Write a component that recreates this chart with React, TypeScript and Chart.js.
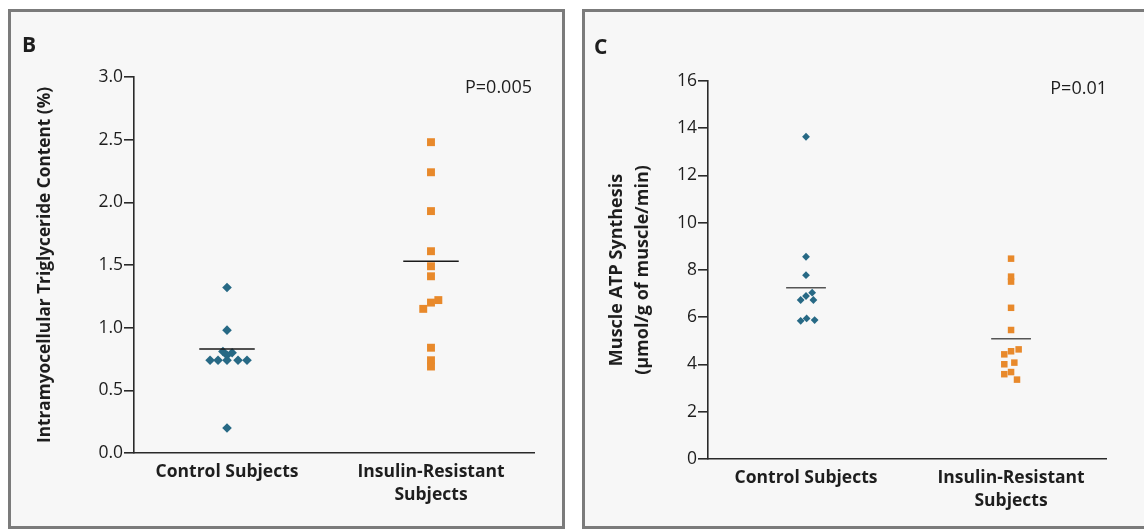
import React, { useEffect, useRef } from 'react';
import { Chart, registerables } from 'chart.js';

Chart.register(...registerables);

// ---------- data ----------
const categoryLabels: (string | string[])[] = ['Control Subjects', ['Insulin-Resistant', 'Subjects']];

// Panel B: intramyocellular triglyceride content (%)
const imtgTicks = [0, 0.5, 1.0, 1.5, 2.0, 2.5, 3.0];
const imtgControl = [1.32, 0.98, 0.81, 0.8, 0.78, 0.74, 0.74, 0.74, 0.74, 0.74, 0.2];
const imtgControlOffset = [0, 0, -0.02, 0.025, 0, -0.083, -0.044, 0, 0.054, 0.098, 0];
const imtgResistant = [2.48, 2.24, 1.93, 1.61, 1.49, 1.41, 1.22, 1.2, 1.15, 0.84, 0.74, 0.69];
const imtgResistantOffset = [0, 0, 0, 0, 0, 0, 0.036, 0, -0.038, 0, 0, 0];
const imtgMeans = [0.83, 1.53];
const imtgP = 'P=0.005';

// Panel C: muscle ATP synthesis (µmol/g of muscle/min)
const atpTicks = [0, 2, 4, 6, 8, 10, 12, 14, 16];
const atpControl = [13.64, 8.56, 7.78, 7.04, 6.9, 6.73, 6.73, 5.95, 5.85, 5.88];
const atpControlOffset = [0, 0, 0, 0.03, 0, -0.026, 0.036, 0.003, -0.026, 0.042];
const atpResistant = [8.48, 7.72, 7.51, 6.4, 5.46, 4.64, 4.56, 4.43, 4.08, 4.01, 3.68, 3.59, 3.36];
const atpResistantOffset = [0, 0, 0, 0, 0, 0.037, 0, -0.033, 0.016, -0.033, 0, -0.033, 0.029];
const atpMeans = [7.25, 5.09];
const atpP = 'P=0.01';

// ---------- styles ----------
const TEAL = '#276985';
const ORANGE = '#e8892b';
const AXIS = '#2a2a2a';
const TEXT = '#1e1e1e';
const FONT = "'Open Sans', 'DejaVu Sans', sans-serif";

const panelTextPlugin = {
  id: 'panelText',
  afterDraw(chart: any, _args: any, opts: any) {
    const ctx = chart.ctx;
    ctx.save();
    ctx.fillStyle = TEXT;
    ctx.textBaseline = 'alphabetic';
    ctx.textAlign = 'left';
    ctx.font = `bold 21px ${FONT}`;
    ctx.fillText(opts.letter, opts.letterX, opts.letterY);
    ctx.font = `18px ${FONT}`;
    ctx.textAlign = 'right';
    ctx.fillText(opts.pText, chart.chartArea.right + opts.pDx, opts.pY);
    ctx.restore();
  },
};

interface PanelSpec {
  control: number[];
  controlOffset: number[];
  resistant: number[];
  resistantOffset: number[];
  means: number[];
  ticks: number[];
  decimals: number;
  yTitle: string | string[];
  titleSize: number;
  titleLineHeight: number;
  titlePad: number;
  xMin: number;
  xMax: number;
  meanHalf: number;
  meanColor: string;
  diamond: number;
  square: number;
  padRight: number;
  padTop: number;
  yWidth: number;
  xHeight: number;
  letter: string;
  letterX: number;
  letterY: number;
  pText: string;
  pDx: number;
  pY: number;
}

function buildConfig(s: PanelSpec): any {
  const toPts = (vals: number[], offs: number[], cat: number) =>
    vals.map((v, i) => ({ x: cat + offs[i], y: v }));
  const meanLine = (cat: number, m: number) => ({
    type: 'line',
    data: [
      { x: cat - s.meanHalf, y: m },
      { x: cat + s.meanHalf, y: m },
    ],
    borderColor: s.meanColor,
    borderWidth: 1.6,
    pointRadius: 0,
    fill: false,
  });
  return {
    type: 'scatter',
    data: {
      datasets: [
        meanLine(1, s.means[0]),
        meanLine(2, s.means[1]),
        {
          data: toPts(s.control, s.controlOffset, 1),
          pointStyle: 'rectRot',
          pointRadius: s.diamond,
          backgroundColor: TEAL,
          borderColor: TEAL,
          borderWidth: 0,
        },
        {
          data: toPts(s.resistant, s.resistantOffset, 2),
          pointStyle: 'rect',
          pointRadius: s.square,
          backgroundColor: ORANGE,
          borderColor: ORANGE,
          borderWidth: 0,
        },
      ],
    },
    options: {
      responsive: false,
      animation: false,
      layout: { padding: { left: 0, right: s.padRight, top: s.padTop, bottom: 0 } },
      plugins: {
        legend: { display: false },
        tooltip: { enabled: false },
        panelText: {
          letter: s.letter,
          letterX: s.letterX,
          letterY: s.letterY,
          pText: s.pText,
          pDx: s.pDx,
          pY: s.pY,
        },
      },
      scales: {
        x: {
          type: 'linear',
          min: s.xMin,
          max: s.xMax,
          afterBuildTicks: (scale: any) => {
            scale.ticks = [{ value: 1 }, { value: 2 }];
          },
          afterFit: (scale: any) => {
            scale.height = s.xHeight;
          },
          ticks: {
            autoSkip: false,
            maxRotation: 0,
            padding: 7,
            color: TEXT,
            font: { family: FONT, size: 17.5, weight: 'bold', lineHeight: 1.35 },
            callback: (v: number) => categoryLabels[v - 1],
          },
          grid: { display: false, drawTicks: false },
          border: { display: true, color: AXIS, width: 1.6 },
        },
        y: {
          type: 'linear',
          min: s.ticks[0],
          max: s.ticks[s.ticks.length - 1],
          afterBuildTicks: (scale: any) => {
            scale.ticks = s.ticks.map((v) => ({ value: v }));
          },
          afterFit: (scale: any) => {
            scale.width = s.yWidth;
          },
          ticks: {
            padding: 1,
            color: TEXT,
            font: { family: FONT, size: 17.5 },
            callback: (v: number) => v.toFixed(s.decimals),
          },
          grid: {
            display: true,
            drawOnChartArea: false,
            drawTicks: true,
            tickLength: 10,
            color: AXIS,
            lineWidth: 1.6,
          },
          border: { display: true, color: AXIS, width: 1.6 },
          title: {
            display: true,
            text: s.yTitle,
            color: TEXT,
            font: { family: FONT, size: s.titleSize, weight: 'bold', lineHeight: s.titleLineHeight },
            padding: { top: s.titlePad, bottom: 0 },
          },
        },
      },
    },
    plugins: [panelTextPlugin],
  };
}

const specB: PanelSpec = {
  control: imtgControl,
  controlOffset: imtgControlOffset,
  resistant: imtgResistant,
  resistantOffset: imtgResistantOffset,
  means: imtgMeans,
  ticks: imtgTicks,
  decimals: 1,
  yTitle: 'Intramyocellular Triglyceride Content (%)',
  titleSize: 17.25,
  titleLineHeight: 1.2,
  titlePad: 23.5,
  xMin: 0.544,
  xMax: 2.505,
  meanHalf: 0.136,
  meanColor: '#1a1a1a',
  diamond: 4.8,
  square: 5.6,
  padRight: 28,
  padTop: 65,
  yWidth: 123,
  xHeight: 73,
  letter: 'B',
  letterX: 11,
  letterY: 40,
  pText: imtgP,
  pDx: -2,
  pY: 81,
};

const specC: PanelSpec = {
  control: atpControl,
  controlOffset: atpControlOffset,
  resistant: atpResistant,
  resistantOffset: atpResistantOffset,
  means: atpMeans,
  ticks: atpTicks,
  decimals: 0,
  yTitle: ['Muscle ATP Synthesis', '(µmol/g of muscle/min)'],
  titleSize: 18,
  titleLineHeight: 1.44,
  titlePad: 18.7,
  xMin: 0.522,
  xMax: 2.463,
  meanHalf: 0.097,
  meanColor: '#555555',
  diamond: 3.9,
  square: 4.6,
  padRight: 39,
  padTop: 69,
  yWidth: 123,
  xHeight: 67,
  letter: 'C',
  letterX: 9,
  letterY: 42,
  pText: atpP,
  pDx: 1,
  pY: 82,
};

function Panel({ spec, left, width, canvasWidth }: { spec: PanelSpec; left: number; width: number; canvasWidth: number }) {
  const ref = useRef<HTMLCanvasElement | null>(null);
  useEffect(() => {
    if (!ref.current) return;
    const chart = new Chart(ref.current, buildConfig(spec));
    return () => chart.destroy();
  }, [spec]);
  return (
    <div
      style={{
        position: 'absolute',
        left,
        top: 9,
        width,
        height: 520,
        boxSizing: 'border-box',
        border: '3px solid #7b7b7b',
        background: '#f7f7f7',
      }}
    >
      <canvas
        ref={ref}
        width={canvasWidth}
        height={514}
        style={{ position: 'absolute', left: 0, top: 0, width: canvasWidth, height: 514 }}
      />
    </div>
  );
}

export default function App() {
  return (
    <div
      style={{
        position: 'fixed',
        left: 0,
        top: 0,
        width: 1144,
        height: 529,
        overflow: 'hidden',
        background: '#ffffff',
      }}
    >
      <Panel spec={specB} left={8} width={557} canvasWidth={551} />
      <Panel spec={specC} left={582} width={580} canvasWidth={560} />
    </div>
  );
}
